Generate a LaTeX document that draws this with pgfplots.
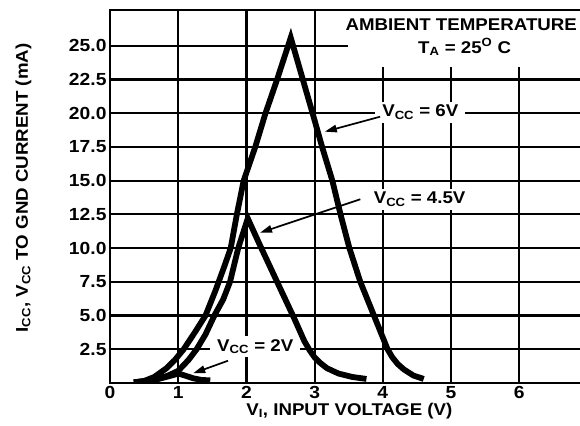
\documentclass[border=0pt]{standalone}
\usepackage{fontspec}
\setmainfont{Liberation Sans}[FakeStretch=1.1]
\usepackage{pgfplots}
\pgfplotsset{compat=1.18}
\usetikzlibrary{arrows.meta}

\newcommand\lbl{\bfseries\fontsize{17}{19}\selectfont}
\newcommand\tkl{\bfseries\fontsize{17.5}{19}\selectfont}
\tikzset{
  curve/.style={black, line width=5.8pt, line join=miter, line cap=butt},
  arr/.style={black, line width=1.7pt, -{Triangle[length=12pt,width=7.5pt]}},
  lab/.style={font=\lbl, fill=white, inner xsep=7pt, inner ysep=3pt, anchor=base},
}

\begin{document}
\begin{tikzpicture}
\begin{axis}[
  name=ax,
  scale only axis,
  width=473pt, height=373pt,
  xmin=0, xmax=6.935, ymin=0, ymax=27.65,
  xtick={0,1,2,3,4,5,6},
  ytick={2.5,5,7.5,10,12.5,15,17.5,20,22.5,25},
  yticklabel style={/pgf/number format/.cd, fixed, fixed zerofill, precision=1},
  /pgf/number format/assume math mode=true,
  tick label style={font=\tkl},
  label style={font=\lbl},
  major tick length=0pt,
  grid=major,
  major grid style={black, line width=2.2pt},
  axis line style={black, line width=2.8pt},
  xlabel={V\textsubscript{I}, INPUT VOLTAGE (V)},
  ylabel={I\textsubscript{CC}, V\textsubscript{CC} TO GND CURRENT (mA)},
  xlabel style={at={(axis description cs:0.506,0)}, anchor=center, yshift=-28pt},
  ylabel style={at={(axis description cs:-0.183,0.523)}, anchor=center},
]
% white box behind the ambient temperature note
\fill[white] (axis cs:3.49,23.4) rectangle (axis cs:7,27.54);
\node[font=\lbl, anchor=base] at (axis cs:5.15,26.12) {AMBIENT TEMPERATURE};
\node[font=\lbl, anchor=base] at (axis cs:5.2,24.46) {T\textsubscript{A} = 25\textsuperscript{O} C};

\node[lab] at (axis cs:4.55,19.72) {V\textsubscript{CC} = 6V};
\node[lab] at (axis cs:4.54,13.27) {V\textsubscript{CC} = 4.5V};
\node[lab] at (axis cs:2.13,2.37) {V\textsubscript{CC} = 2V};

% VCC = 6V
\addplot[curve] coordinates {
(0.35,0.05)(0.5,0.15)(0.65,0.45)(0.83,1.1)(0.95,1.7)(1.08,2.5)(1.25,3.8)(1.4,5.0)(1.55,6.9)(1.68,8.7)
(1.77,10)(1.86,12.5)(1.96,15)(2.13,17.5)(2.28,20)(2.45,22.5)(2.65,25.6)
(2.97,20)(3.11,17.5)(3.26,15)(3.38,12.5)(3.51,10)(3.67,7.5)(3.87,5)(4.07,2.5)
(4.14,1.9)(4.22,1.4)(4.31,1.0)(4.45,0.55)(4.6,0.3)};

% VCC = 4.5V
\addplot[curve] coordinates {
(0.35,0.05)(0.55,0.15)(0.7,0.3)(0.85,0.55)(1.0,0.9)(1.15,1.7)(1.27,2.5)(1.4,3.6)(1.53,5.0)(1.66,6.2)
(1.76,7.5)(1.88,10)(2.02,12.2)
(2.2,10.2)(2.45,7.5)(2.7,4.8)(2.85,3.1)(2.93,2.4)(3.0,1.9)(3.08,1.5)(3.18,1.1)(3.35,0.7)(3.55,0.45)(3.76,0.3)};

% VCC = 2V
\addplot[curve] coordinates {
(0.35,0.05)(0.55,0.15)(0.75,0.35)(0.9,0.55)(1.0,0.7)(1.1,0.55)(1.22,0.35)(1.35,0.22)(1.47,0.2)};

\draw[arr] (axis cs:3.96,19.74) -- (axis cs:3.15,18.63);
\draw[arr] (axis cs:3.67,13.62) -- (axis cs:2.20,11.14);
\draw[arr] (axis cs:1.73,1.65) -- (axis cs:1.22,0.72);
\end{axis}
\pgfresetboundingbox
\path[use as bounding box] ([shift={(-110pt,-43pt)}]ax.south west) rectangle ([shift={(-3pt,10pt)}]ax.north east);
\end{tikzpicture}
\end{document}
